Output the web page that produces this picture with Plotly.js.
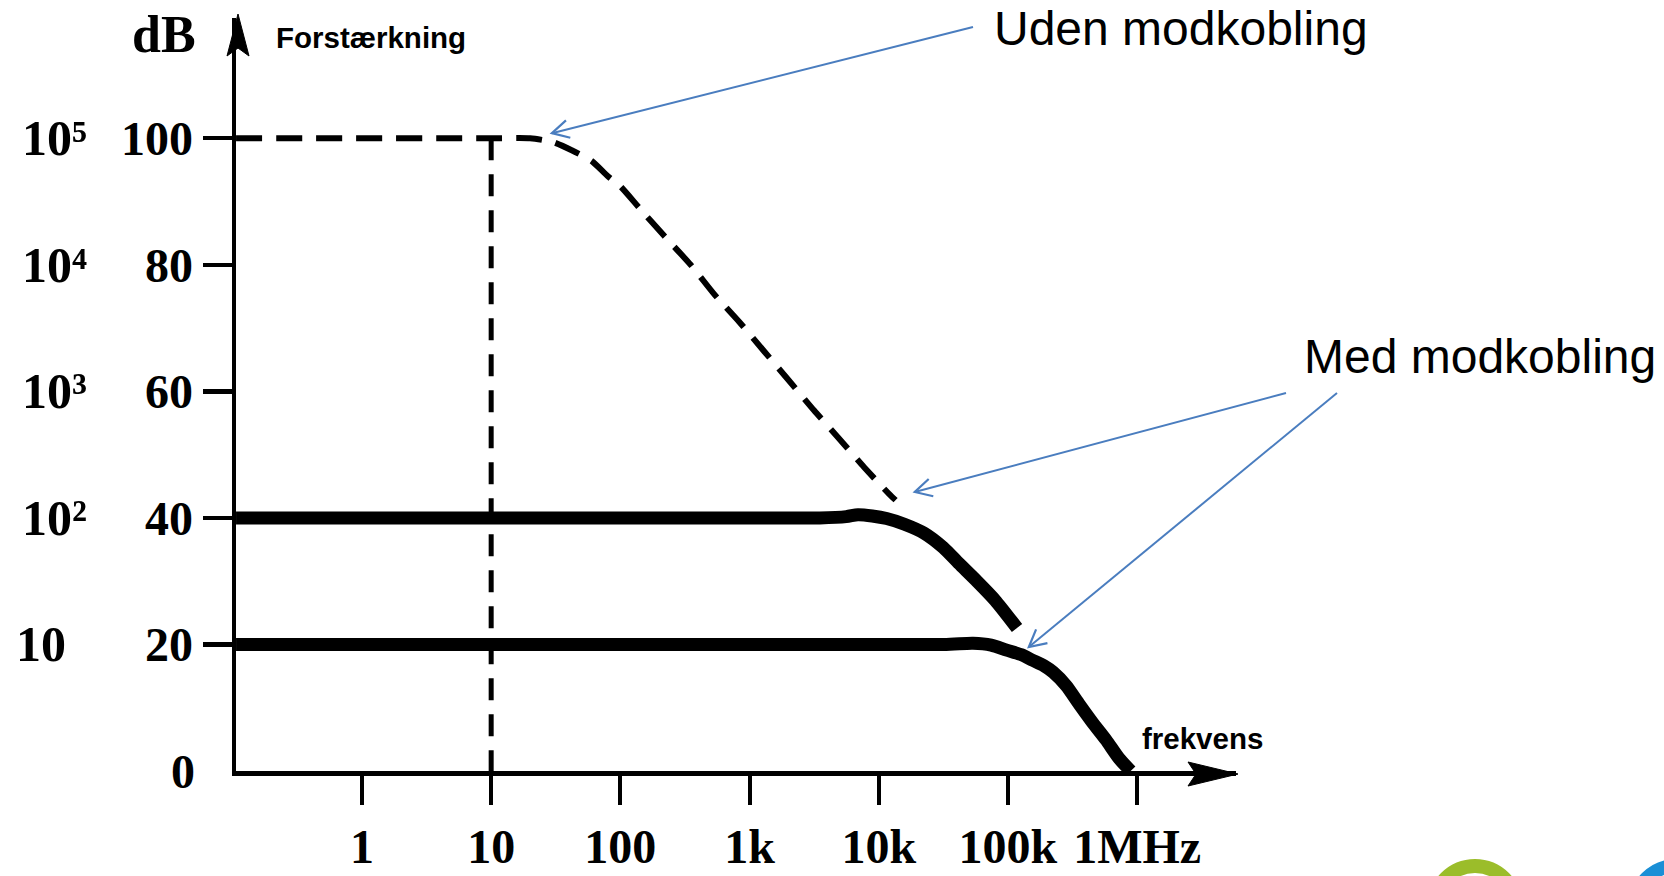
<!DOCTYPE html>
<html>
<head>
<meta charset="utf-8">
<script src="https://cdn.plot.ly/plotly-3.0.1.min.js"></script>
<style>
  html, body { margin: 0; padding: 0; background: #ffffff; }
  #chart { width: 1664px; height: 876px; }
</style>
</head>
<body>
<div id="chart"></div>
<script>
// ---------- data (frequency in Hz, gain in dB) ----------
// Open-loop gain ("Uden modkobling"), dashed
const openFreq = [0.106, 10, 20, 30, 42, 60, 80, 100, 140, 220, 350, 540, 830, 1300, 2000, 3150, 4900, 7700, 12000, 13500];
const openGain = [100, 100, 100, 99.4, 98.1, 96.4, 94, 92.4, 89, 84.5, 80, 75.2, 71, 66.3, 61.8, 57, 52.6, 48, 43.8, 42.8];

// Closed loop, 40 dB ("Med modkobling")
const cl40Freq = [0.106, 1000, 3500, 5600, 6900, 8900, 11500, 15800, 22400, 31600, 41700, 56200, 79400, 117500];
const cl40Gain = [40, 40, 40, 40.2, 40.5, 40.3, 39.9, 39.0, 37.6, 35.3, 32.8, 30.2, 27.0, 22.6];

// Closed loop, 20 dB ("Med modkobling")
const cl20Freq = [0.106, 31600, 53700, 74100, 97700, 126000, 155000, 190500, 224000, 282000, 355000, 450000, 575000, 724000, 891000];
const cl20Gain = [20, 20, 20.2, 19.9, 19.1, 18.4, 17.5, 16.6, 15.6, 13.5, 10.6, 7.7, 4.9, 2.0, 0];

// Vertical dashed marker at 10 Hz
const markerFreq = [10, 10];
const markerGain = [100, 0];

// Axis ticks
const xTickVals = [1, 10, 100, 1e3, 1e4, 1e5, 1e6];
const xTickText = ['1', '10', '100', '1k', '10k', '100k', '1MHz'];
const yTickVals = [20, 40, 60, 80, 100];
const yTickText = ['20', '40', '60', '80', '100'];
const ratioVals = [100, 80, 60, 40, 20];
const ratioText = ['10\u2075', '10\u2074', '10\u00B3', '10\u00B2', '10'];

// Callout labels and the curve points their arrows touch
const calloutText = ['Uden modkobling', 'Med modkobling'];
const arrowTipFreq = [29.5, 19000, 145000];
const arrowTipGain = [100.8, 44.1, 19.6];

// ---------- layout geometry ----------
const W = 1664, H = 876;
const M = { l: 236, r: 428, t: 18, b: 105 };
const PW = W - M.l - M.r, PH = H - M.t - M.b;
const XR = [-0.975, 6.765], YR = [0, 119];
const px2x = px => (px - M.l) / PW;
const py2y = py => (H - M.b - py) / PH;
const f2px = f => M.l + (Math.log10(f) - XR[0]) / (XR[1] - XR[0]) * PW;
const g2py = g => H - M.b - (g - YR[0]) / (YR[1] - YR[0]) * PH;

const serif = { family: 'Liberation Serif, Times New Roman, serif', size: 48, color: '#000', weight: 'bold' };
const sansBold = { family: 'Liberation Sans, Arial, sans-serif', size: 29.5, color: '#000', weight: 'bold' };
const sans = { family: 'Liberation Sans, Arial, sans-serif', size: 48, color: '#000' };
const blue = '#4a7dbf';

const traces = [
  { x: openFreq, y: openGain, mode: 'lines', cliponaxis: false, hoverinfo: 'skip',
    line: { color: '#000', width: 6, dash: '26px,14px', shape: 'spline', smoothing: 0.6 } },
  { x: markerFreq, y: markerGain, mode: 'lines', cliponaxis: false, hoverinfo: 'skip',
    line: { color: '#000', width: 5, dash: '22px,14px' } },
  { x: cl40Freq, y: cl40Gain, mode: 'lines', cliponaxis: false, hoverinfo: 'skip',
    line: { color: '#000', width: 13, shape: 'spline', smoothing: 0.7 } },
  { x: cl20Freq, y: cl20Gain, mode: 'lines', cliponaxis: false, hoverinfo: 'skip',
    line: { color: '#000', width: 13, shape: 'spline', smoothing: 0.7 } }
];

const annotations = [];
// axis captions
annotations.push({ text: 'dB', xref: 'paper', yref: 'paper', x: px2x(164), y: py2y(35),
  xanchor: 'center', yanchor: 'middle', showarrow: false, font: { ...serif, size: 52 } });
annotations.push({ text: 'Forstærkning', xref: 'paper', yref: 'paper', x: px2x(274), y: py2y(38),
  xanchor: 'left', yanchor: 'middle', showarrow: false, font: sansBold });
annotations.push({ text: 'frekvens', xref: 'paper', yref: 'paper', x: px2x(1140), y: py2y(738),
  xanchor: 'left', yanchor: 'middle', showarrow: false, font: sansBold });
// zero label on y axis
annotations.push({ text: '0', xref: 'paper', yref: 'y', x: px2x(197), y: 0,
  xanchor: 'right', yanchor: 'middle', showarrow: false, font: serif });
// ratio labels (10^n)
ratioVals.forEach((v, i) => {
  annotations.push({ text: ratioText[i], xref: 'paper', yref: 'y', x: px2x(i === 4 ? 14 : 20), y: v,
    xanchor: 'left', yanchor: 'middle', showarrow: false, font: { ...serif, size: 50 } });
});
// callouts
annotations.push({ text: calloutText[0], xref: 'paper', yref: 'paper', x: px2x(992), y: py2y(29),
  xanchor: 'left', yanchor: 'middle', showarrow: false, font: sans });
annotations.push({ text: calloutText[1], xref: 'paper', yref: 'paper', x: px2x(1302), y: py2y(356),
  xanchor: 'left', yanchor: 'middle', showarrow: false, font: sans });

const shapes = [
  // y-axis arrowhead
  { type: 'path', xref: 'paper', yref: 'paper', xsizemode: 'pixel', ysizemode: 'pixel',
    xanchor: 0, yanchor: 1, path: 'M 2,4 L -9,-38 L 2,-30 L 13,-38 Z',
    fillcolor: '#000', line: { color: '#000', width: 1 } },
  // x-axis arrowhead
  { type: 'path', xref: 'paper', yref: 'paper', xsizemode: 'pixel', ysizemode: 'pixel',
    xanchor: 1, yanchor: 0, path: 'M 2,-3 L -48,9 L -40,-3 L -48,-15 Z',
    fillcolor: '#000', line: { color: '#000', width: 1 } },
  // logo fragments in the bottom right corner
  { type: 'circle', xref: 'paper', yref: 'paper', x0: px2x(1434), x1: px2x(1516), y0: py2y(948), y1: py2y(866),
    line: { color: '#9bbd2a', width: 14 }, fillcolor: 'rgba(0,0,0,0)' },
  { type: 'circle', xref: 'paper', yref: 'paper', x0: px2x(1635), x1: px2x(1717), y0: py2y(948), y1: py2y(866),
    line: { color: '#1a8fd6', width: 14 }, fillcolor: 'rgba(0,0,0,0)' }
];

// callout arrows: straight blue line with an open chevron head at the curve point
const tails = [[973, 27], [1286, 393], [1337, 393]];
arrowTipFreq.forEach((f, i) => {
  const hx = f2px(f), hy = g2py(arrowTipGain[i]);
  const tx = tails[i][0], ty = tails[i][1];
  shapes.push({ type: 'line', xref: 'paper', yref: 'paper',
    x0: px2x(tx), y0: py2y(ty), x1: px2x(hx), y1: py2y(hy),
    line: { color: blue, width: 2 } });
  const len = Math.hypot(tx - hx, ty - hy);
  const ux = (tx - hx) / len, uy = (ty - hy) / len;   // screen coords, y down
  const arm = 19, ang = 28 * Math.PI / 180;
  const rot = a => [ux * Math.cos(a) - uy * Math.sin(a), ux * Math.sin(a) + uy * Math.cos(a)];
  const a1 = rot(ang), a2 = rot(-ang);
  const p = (v) => `${(v[0] * arm).toFixed(2)},${(-v[1] * arm).toFixed(2)}`;
  shapes.push({ type: 'path', xref: 'paper', yref: 'paper', xsizemode: 'pixel', ysizemode: 'pixel',
    xanchor: px2x(hx), yanchor: py2y(hy),
    path: `M ${p(a1)} L 0,0 L ${p(a2)}`,
    line: { color: blue, width: 2.2 }, fillcolor: 'rgba(0,0,0,0)' });
});

const layout = {
  width: W, height: H,
  margin: M,
  paper_bgcolor: '#fff', plot_bgcolor: '#fff',
  showlegend: false,
  xaxis: {
    type: 'log', range: XR,
    showline: true, linewidth: 5, linecolor: '#000',
    ticks: 'outside', ticklen: 29, tickwidth: 4, tickcolor: '#000',
    tickmode: 'array', tickvals: xTickVals, ticktext: xTickText,
    tickfont: serif, showgrid: false, zeroline: false, fixedrange: true
  },
  yaxis: {
    range: YR,
    showline: true, linewidth: 4.5, linecolor: '#000',
    ticks: 'outside', ticklen: 29, tickwidth: 4.5, tickcolor: '#000',
    tickmode: 'array', tickvals: yTickVals, ticktext: yTickText,
    tickfont: serif, showgrid: false, zeroline: false, fixedrange: true
  },
  annotations: annotations,
  shapes: shapes
};

Plotly.newPlot('chart', traces, layout, { staticPlot: true, displayModeBar: false });
</script>
</body>
</html>
